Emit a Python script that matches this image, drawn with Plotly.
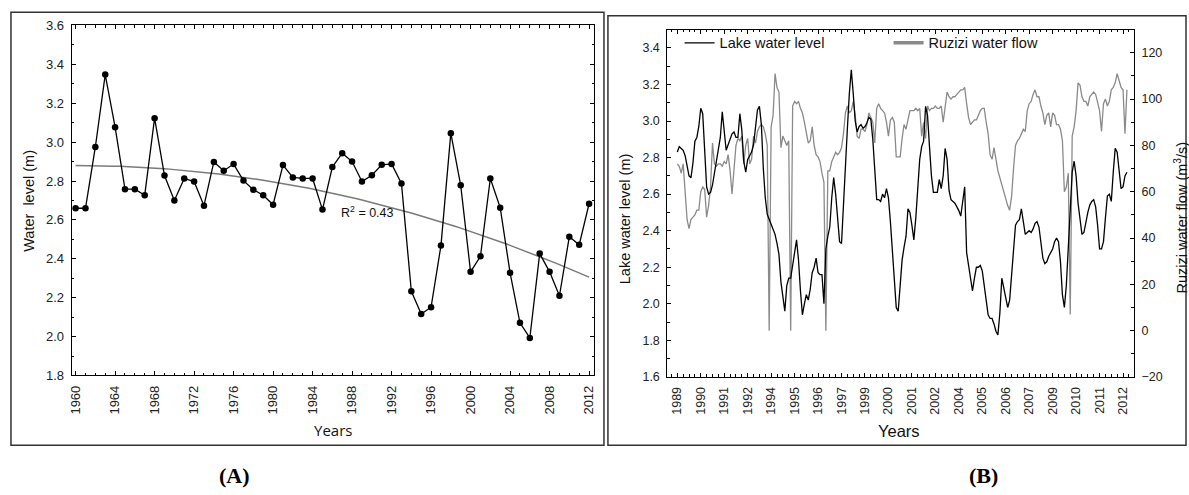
import numpy as np
import plotly.graph_objects as go

W, H = 1189, 495

# ---------------- Panel A data (annual mean water level) ----------------
years_a = list(range(1960, 2013))
level_a = [2.66, 2.66, 2.975, 3.347, 3.077, 2.758, 2.758, 2.727, 3.123, 2.828,
           2.70, 2.813, 2.797, 2.673, 2.898, 2.853, 2.887, 2.802, 2.755, 2.727,
           2.678, 2.882, 2.818, 2.813, 2.813, 2.653, 2.872, 2.943, 2.90, 2.797,
           2.83, 2.883, 2.888, 2.787, 2.233, 2.116, 2.151, 2.468, 3.046, 2.778,
           2.333, 2.413, 2.813, 2.663, 2.328, 2.071, 1.993, 2.427, 2.333, 2.21,
           2.513, 2.472, 2.683]
r2_text = "R<sup>2</sup> = 0.43"

# ---------------- Panel B data (monthly series) ----------------
b_ticktext = ["1989", "1990", "1991", "1992", "1994", "1995", "1996", "1997",
              "1999", "2000", "2001", "2002", "2004", "2005", "2006", "2007",
              "2009", "2010", "2011", "2012"]
lake_level = [2.83, 2.86, 2.85, 2.84, 2.81, 2.76, 2.70, 2.69, 2.77, 2.89,
              2.91, 2.97, 3.07, 3.04, 2.80, 2.64, 2.60, 2.61, 2.65, 2.72,
              2.78, 2.85, 2.91, 3.05, 2.95, 2.84, 2.87, 2.90, 2.93, 2.94,
              2.91, 2.91, 3.04, 2.95, 2.78, 2.72, 2.79, 2.81, 2.83, 2.87,
              2.98, 3.06, 3.08, 2.98, 2.74, 2.58, 2.49, 2.46, 2.44, 2.41,
              2.38, 2.33, 2.27, 2.12, 2.03, 1.96, 2.10, 2.14, 2.14, 2.20,
              2.28, 2.35, 2.24, 2.07, 1.94, 2.00, 2.05, 2.02, 2.08, 2.17,
              2.20, 2.25, 2.17, 2.16, 2.16, 2.00, 2.30, 2.37, 2.42, 2.58,
              2.69, 2.60, 2.47, 2.34, 2.33, 2.56, 2.76, 2.96, 3.15, 3.28,
              3.15, 3.00, 2.94, 2.97, 2.98, 2.96, 2.97, 2.99, 3.02, 3.01,
              2.90, 2.70, 2.57, 2.57, 2.56, 2.60, 2.58, 2.63, 2.58, 2.45,
              2.28, 2.10, 1.98, 1.96, 2.12, 2.24, 2.31, 2.37, 2.52, 2.50,
              2.43, 2.35, 2.47, 2.65, 2.79, 2.86, 2.89, 3.08, 3.03, 2.86,
              2.70, 2.61, 2.61, 2.61, 2.68, 2.63, 2.70, 2.85, 2.79, 2.62,
              2.57, 2.56, 2.55, 2.53, 2.51, 2.48, 2.57, 2.64, 2.28, 2.21,
              2.15, 2.07, 2.14, 2.20, 2.20, 2.21, 2.18, 2.10, 1.99, 1.94,
              1.92, 1.92, 1.89, 1.85, 1.83, 1.95, 2.14, 2.09, 2.04, 1.98,
              2.02, 2.17, 2.31, 2.43, 2.45, 2.46, 2.52, 2.44, 2.38, 2.39,
              2.40, 2.39, 2.41, 2.44, 2.45, 2.42, 2.33, 2.25, 2.22, 2.23,
              2.26, 2.28, 2.30, 2.34, 2.36, 2.34, 2.23, 2.05, 1.98, 2.10,
              2.31, 2.55, 2.72, 2.78, 2.70, 2.55, 2.45, 2.38, 2.39, 2.45,
              2.50, 2.54, 2.56, 2.57, 2.53, 2.43, 2.30, 2.30, 2.34, 2.47,
              2.59, 2.60, 2.56, 2.72, 2.85, 2.83, 2.71, 2.63, 2.64, 2.70,
              2.72]
ruzizi_flow = [72, 71, 68, 72, 60, 48, 44, 48, 49, 50,
               52, 52, 60, 62, 61, 49, 54, 62, 81, 72,
               71, 72, 72, 71, 73, 72, 76, 69, 59, 68,
               80, 83, 82, 84, 72, 80, 83, 72, 74, 84,
               81, 86, 88, 89, 88, 85, 80, 0, 88, 93,
               111, 105, 103, 79, 84, 82, 80, 82, 0, 97,
               99, 98, 99, 96, 94, 90, 86, 81, 82, 88,
               80, 76, 75, 73, 68, 64, 0, 69, 69, 73,
               75, 77, 76, 77, 79, 85, 94, 97, 94, 95,
               99, 93, 84, 83, 87, 87, 86, 89, 94, 92,
               90, 81, 96, 98, 96, 95, 94, 90, 84, 91,
               92, 90, 75, 75, 75, 83, 89, 87, 91, 95,
               95, 95, 96, 95, 96, 84, 90, 83, 97, 95,
               96, 96, 97, 96, 96, 97, 90, 97, 103, 101,
               100, 101, 101, 102, 103, 104, 104, 105, 98, 92,
               89, 90, 91, 91, 93, 95, 96, 96, 90, 85,
               76, 74, 79, 73, 69, 66, 63, 59, 56, 54,
               52, 58, 70, 80, 82, 83, 85, 87, 86, 95,
               98, 99, 102, 104, 101, 101, 97, 94, 89, 93,
               94, 88, 94, 93, 89, 89, 87, 82, 60, 62,
               68, 7, 84, 88, 95, 107, 106, 101, 99, 99,
               97, 101, 102, 103, 102, 99, 95, 86, 98, 100,
               97, 99, 104, 105, 107, 111, 108, 105, 104, 85,
               104]

b_index = list(range(len(lake_level)))
b_tickvals = list(range(0, 12 * len(b_ticktext), 12))

# quadratic trend fitted to panel A data
coef = np.polyfit(years_a, level_a, 2)
trend_x = np.linspace(1960, 2012, 105)
trend_y = np.polyval(coef, trend_x)


def px(x):
    return x / W


def py(y):
    return 1 - y / H


TICKFONT_A = dict(family="Liberation Sans, Arial", size=13, color="#222")
TICKFONT_B = dict(family="Liberation Sans, Arial", size=12.5, color="#222")

fig = go.Figure()

fig.add_trace(go.Scatter(x=trend_x, y=trend_y, mode="lines",
                         line=dict(color="#7a7a7a", width=1.5),
                         xaxis="x", yaxis="y", showlegend=False, hoverinfo="skip"))
fig.add_trace(go.Scatter(x=years_a, y=level_a, mode="lines+markers",
                         line=dict(color="black", width=1.3),
                         marker=dict(color="black", size=6.5),
                         xaxis="x", yaxis="y", showlegend=False))

fig.add_trace(go.Scatter(x=b_index, y=ruzizi_flow, mode="lines",
                         line=dict(color="#8a8a8a", width=1.3),
                         xaxis="x2", yaxis="y2", showlegend=False))
fig.add_trace(go.Scatter(x=b_index, y=lake_level, mode="lines",
                         line=dict(color="black", width=1.3),
                         xaxis="x2", yaxis="y3", showlegend=False))

# legend-only entries
fig.add_trace(go.Scatter(x=[None], y=[None], mode="lines", name="Lake water level",
                         line=dict(color="black", width=1.3), xaxis="x2", yaxis="y3"))
fig.add_trace(go.Scatter(x=[None], y=[None], mode="lines", name="Ruzizi water flow",
                         line=dict(color="#8a8a8a", width=3.5), xaxis="x2", yaxis="y3"))

common = dict(showline=True, linecolor="black", linewidth=1, ticks="inside",
              ticklen=4, tickcolor="black", showgrid=False, zeroline=False,
              ticklabelstandoff=4)

minor_common = dict(ticks="inside", ticklen=2.5, tickcolor="black", showgrid=False)

fig.update_layout(
    width=W, height=H, autosize=False,
    margin=dict(l=0, r=0, t=0, b=0),
    paper_bgcolor="white", plot_bgcolor="white",
    xaxis=dict(domain=[px(68), px(593)], range=[1959.6, 2012.5], anchor="y",
               tickmode="linear", tick0=1960, dtick=4, tickangle=-90,
               tickfont=TICKFONT_A, mirror="ticks",
               minor=dict(tickmode="linear", tick0=1960, dtick=1, **minor_common),
               **common),
    yaxis=dict(domain=[py(380), py(19)], range=[1.8, 3.6], anchor="x",
               tickmode="linear", tick0=1.8, dtick=0.2, tickformat=".1f",
               tickfont=TICKFONT_A, mirror="ticks",
               minor=dict(tickmode="linear", tick0=1.8, dtick=0.1, **minor_common),
               **common),
    xaxis2=dict(domain=[px(666.7), px(1135.7)], range=[-5.1, 233.6], anchor="y2",
                tickmode="array", tickvals=b_tickvals, ticktext=b_ticktext,
                tickangle=-90, tickfont=TICKFONT_B, mirror="ticks",
                minor=dict(tickmode="linear", tick0=0, dtick=3, **minor_common),
                **common),
    yaxis2=dict(domain=[py(381.5), py(23.3)], range=[-20, 130], anchor="x2",
                side="right", tickmode="linear", tick0=-20, dtick=20,
                tickfont=TICKFONT_B, mirror=False,
                minor=dict(tickmode="linear", tick0=-20, dtick=10, **minor_common),
                **common),
    yaxis3=dict(overlaying="y2", side="left", range=[1.6, 3.5], anchor="x2",
                tickmode="linear", tick0=1.6, dtick=0.2, tickformat=".1f",
                tickfont=TICKFONT_B, mirror=False,
                minor=dict(tickmode="linear", tick0=1.6, dtick=0.1, **minor_common),
                **common),
    legend=dict(orientation="h", x=px(679), y=py(37), xanchor="left", yanchor="middle",
                entrywidth=164, entrywidthmode="pixels",
                bgcolor="rgba(0,0,0,0)", borderwidth=0,
                font=dict(family="Liberation Sans, Arial", size=14.5, color="#111")),
)

fig.update_layout(shapes=[
    dict(type="rect", xref="paper", yref="paper", x0=px(7), x1=px(603),
         y0=py(452), y1=py(5.3), line=dict(color="#333", width=1.5)),
    dict(type="rect", xref="paper", yref="paper", x0=px(607), x1=px(1188),
         y0=py(452), y1=py(9), line=dict(color="#333", width=1.5)),
])

ann_font = dict(family="Liberation Sans, Arial", color="#111")
base = dict(xref="paper", yref="paper", showarrow=False,
            xanchor="center", yanchor="middle")
fig.update_layout(annotations=[
    dict(text="Water  level (m)", x=px(25), y=py(200), textangle=-90,
         font=dict(size=14.5, **ann_font), **base),
    dict(text="Years", x=px(331), y=py(436),
         font=dict(family="Open Sans", size=15, color="#111"), **base),
    dict(text=r2_text, x=px(365), y=py(211.5),
         font=dict(size=12.5, **ann_font), **base),
    dict(text="<b>(A)</b>", x=px(232), y=py(483),
         font=dict(family="Liberation Serif", size=22, color="#000"), **base),
    dict(text="<b>(B)</b>", x=px(984), y=py(483),
         font=dict(family="Liberation Serif", size=22, color="#000"), **base),
    dict(text="Lake water level (m)", x=px(625), y=py(218), textangle=-90,
         font=dict(size=14.5, **ann_font), **base),
    dict(text="Ruzizi water flow (m<sup>3</sup>/s)", x=px(1183), y=py(218),
         textangle=-90, font=dict(size=14.5, **ann_font), **base),
    dict(text="Years", x=px(900), y=py(437),
         font=dict(size=16.5, **ann_font), **base),
])

fig.write_html("out.html")
